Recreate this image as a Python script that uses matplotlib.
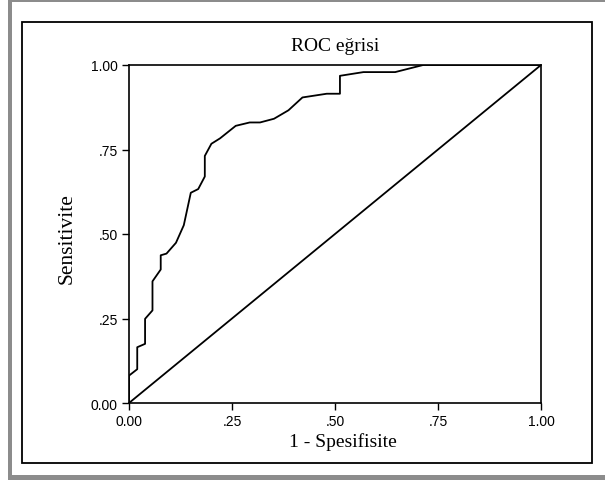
import matplotlib
matplotlib.use("Agg")
import matplotlib.pyplot as plt
from matplotlib.patches import Rectangle

fpr = [0.0, 0.0, 0.02, 0.02, 0.039, 0.039, 0.057, 0.057, 0.077, 0.077, 0.091,
       0.114, 0.133, 0.15, 0.168, 0.184, 0.184, 0.20, 0.221, 0.259, 0.293,
       0.318, 0.352, 0.387, 0.421, 0.48, 0.512, 0.512, 0.569, 0.646, 0.714, 1.0]
tpr = [0.0, 0.081, 0.10, 0.165, 0.175, 0.249, 0.274, 0.36, 0.395, 0.437, 0.442,
       0.474, 0.526, 0.622, 0.633, 0.670, 0.731, 0.767, 0.783, 0.82, 0.83,
       0.83, 0.841, 0.866, 0.904, 0.915, 0.915, 0.968, 0.979, 0.979, 1.0, 1.0]
ref = [0.0, 1.0]
ticks = [0.0, 0.25, 0.5, 0.75, 1.0]
tick_labels = ["0.00", ".25", ".50", ".75", "1.00"]

W, H = 605, 481
fig = plt.figure(figsize=(W / 100, H / 100), dpi=100)

# outer frame decorations
gray = "#8c8c8c"
for rect in [
    Rectangle((8 / W, 0), (W - 8) / W, 5 / H),
    Rectangle((8 / W, 1 - 3 / H), (W - 8) / W, 3 / H),
    Rectangle((8 / W, 0), 4 / W, 1),
]:
    rect.set_transform(fig.transFigure)
    rect.set_facecolor(gray)
    rect.set_edgecolor("none")
    rect.set_zorder(-2)
    fig.patches.append(rect)
box = Rectangle((22 / W, 1 - 464 / H), (592 - 22) / W, (464 - 23) / H,
                transform=fig.transFigure, facecolor="none",
                edgecolor="black", linewidth=1.3, zorder=-1)
fig.patches.append(box)

ax = fig.add_axes([129 / W, 1 - 404 / H, 412 / W, 338 / H])
ax.set_zorder(5)
ax.patch.set_alpha(0)
ax.plot(fpr, tpr, color="black", linewidth=1.3)
ax.plot(ref, ref, color="black", linewidth=1.3)
ax.set_xlim(0, 1)
ax.set_ylim(0, 1)
ax.set_xticks(ticks)
ax.set_yticks(ticks)
ax.set_xticklabels(tick_labels, family="Liberation Sans", fontsize=10)
ax.set_yticklabels(tick_labels, family="Liberation Sans", fontsize=10)
ax.tick_params(direction="out", length=5, width=1, pad=3)
for s in ax.spines.values():
    s.set_linewidth(1.2)
ax.set_title("ROC eğrisi", family="Liberation Serif", fontsize=14, pad=11)
ax.set_xlabel("1 - Spesifisite", family="Liberation Serif", fontsize=14, labelpad=3)
ax.xaxis.label.set_x(0.519)
ax.set_ylabel("Sensitivite", family="Liberation Serif", fontsize=15.5, labelpad=10)
ax.yaxis.label.set_y(0.49)

fig.savefig("out.png", dpi=100)
